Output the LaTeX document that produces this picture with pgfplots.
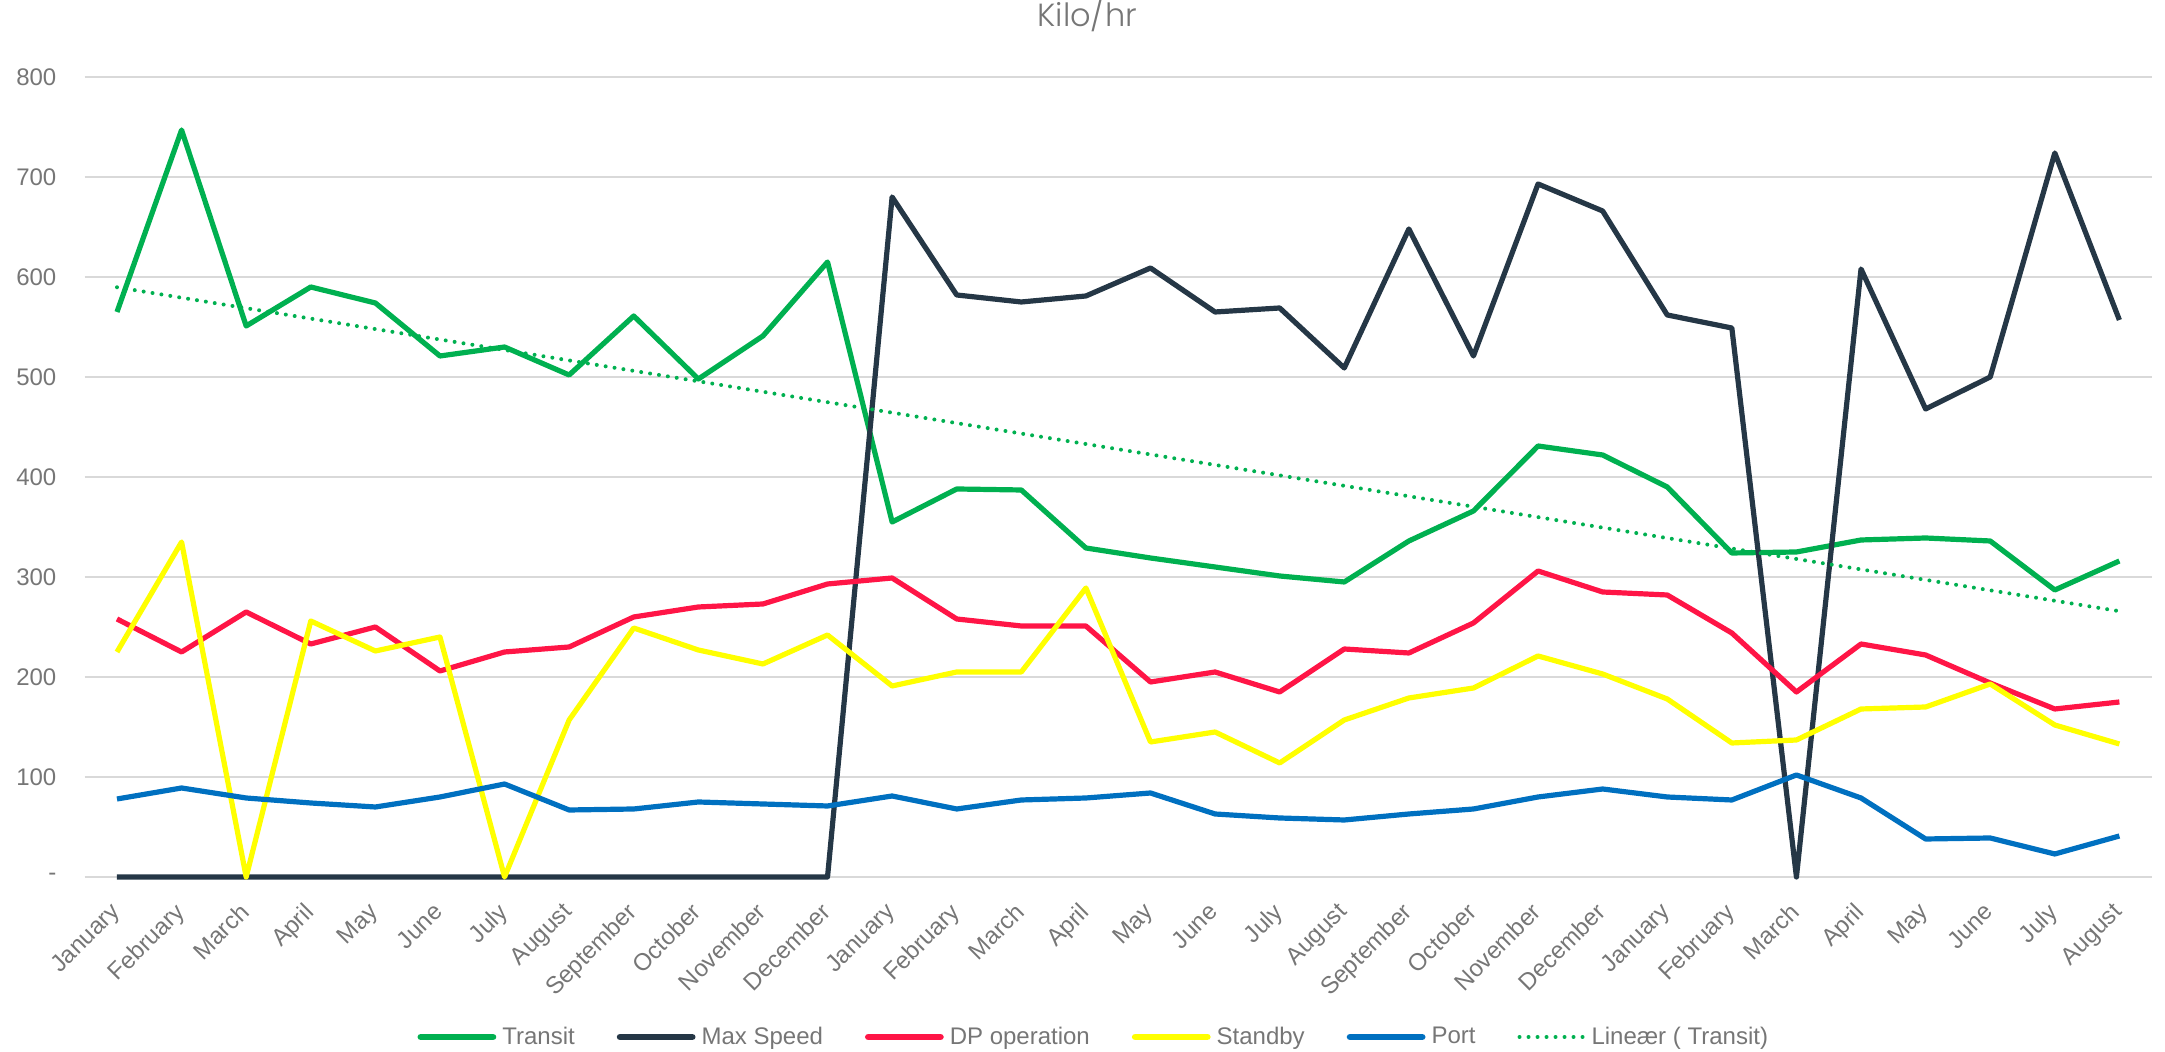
\documentclass[border=0pt]{standalone}
\usepackage{pgfplots}
\usepackage{pgfplotstable}
\pgfplotsset{compat=1.18}
\usepackage{fontspec}
\setmainfont{Liberation Sans}
\newfontfamily\titlefont{Poppins Light}
\definecolor{cTransit}{HTML}{00B050}
\definecolor{cMax}{HTML}{253746}
\definecolor{cDP}{HTML}{FF1546}
\definecolor{cStandby}{HTML}{FFFF00}
\definecolor{cPort}{HTML}{0070C0}
\definecolor{gridgray}{HTML}{D9D9D9}
\definecolor{textgray}{HTML}{767676}
\pgfplotsset{
  thickimg/.style={legend image code/.code={\draw[##1, line cap=round, line width=3.4pt] (0pt,0pt) -- (36pt,0pt);}},
  trendimg/.style={legend image code/.code={\draw[##1] (1pt,0pt) -- (33pt,0pt);}},
}
\pgfplotstableread{
x Transit MaxSpeed DP Standby Port
0 565 0 258 225 78
1 747 0 225 335 89
2 551 0 265 0 79
3 590 0 233 256 74
4 574 0 250 226 70
5 521 0 206 240 80
6 530 0 225 0 93
7 502 0 230 157 67
8 561 0 260 249 68
9 498 0 270 227 75
10 541 0 273 213 73
11 615 0 293 242 71
12 355 680 299 191 81
13 388 582 258 205 68
14 387 575 251 205 77
15 329 581 251 289 79
16 319 609 195 135 84
17 310 565 205 145 63
18 301 569 185 114 59
19 295 509 228 157 57
20 336 648 224 179 63
21 366 521 254 189 68
22 431 693 306 221 80
23 422 666 285 203 88
24 390 562 282 178 80
25 324 549 244 134 77
26 325 0 185 137 102
27 337 608 233 168 79
28 339 468 222 170 38
29 336 500 194 193 39
30 287 724 168 152 23
31 316 557 175 133 41
}\data
\begin{document}
\begin{tikzpicture}
\path[use as bounding box] (-42.35pt,-87.5pt) rectangle (1040.15pt,438.5pt);
\begin{axis}[
  at={(0,0)}, anchor=south west,
  scale only axis, width=1033.5pt, height=400pt,
  xmin=-0.5, xmax=31.5, ymin=0, ymax=800,
  clip=false,
  xtick={0,...,31},
  xticklabels={January,February,March,April,May,June,July,August,September,October,November,December,January,February,March,April,May,June,July,August,September,October,November,December,January,February,March,April,May,June,July,August},
  ytick={0,100,...,800},
  yticklabels={-,100,200,300,400,500,600,700,800},
  axis line style={draw=none},
  major tick length=0pt,
  ymajorgrids, grid style={color=gridgray, line width=0.9pt},
  tick label style={font=\fontsize{12pt}{14pt}\selectfont, text=textgray},
  yticklabel style={anchor=east, inner sep=0pt, xshift=-14pt},
  xticklabel style={yshift=-12pt, xshift=-4pt, rotate=45, anchor=north east, inner sep=0pt},
  legend columns=6,
  legend style={at={(0.4877,0)}, anchor=center, yshift=-80pt, draw=none, fill=none, inner sep=0pt,
    font=\fontsize{12pt}{14pt}\selectfont, text=textgray, nodes={inner sep=0pt},
    /tikz/every odd column/.append style={column sep=3pt},
    /tikz/every even column/.append style={column sep=21pt}},
  every axis plot/.append style={line width=2.6pt, line join=round},
]
\addplot[color=cTransit, thickimg] table[x=x,y=Transit]{\data};
\addlegendentry{Transit}
\addplot[color=cMax, thickimg] table[x=x,y=MaxSpeed]{\data};
\addlegendentry{Max Speed}
\addplot[color=cDP, thickimg] table[x=x,y=DP]{\data};
\addlegendentry{DP operation}
\addplot[color=cStandby, thickimg] table[x=x,y=Standby]{\data};
\addlegendentry{Standby}
\addplot[color=cPort, thickimg] table[x=x,y=Port]{\data};
\addlegendentry{Port}
\addplot[color=cTransit, line width=2pt, dash pattern=on 0pt off 4.5pt, line cap=round, trendimg]
  table[x=x, y={create col/linear regression={y=Transit}}]{\data};
\addlegendentry{Lineær ( Transit)}
\node[anchor=base, text=textgray, font=\titlefont\fontsize{16pt}{19pt}\selectfont] at (rel axis cs:0.485,1) [yshift=25pt] {Kilo/hr};
\end{axis}
\end{tikzpicture}
\end{document}
